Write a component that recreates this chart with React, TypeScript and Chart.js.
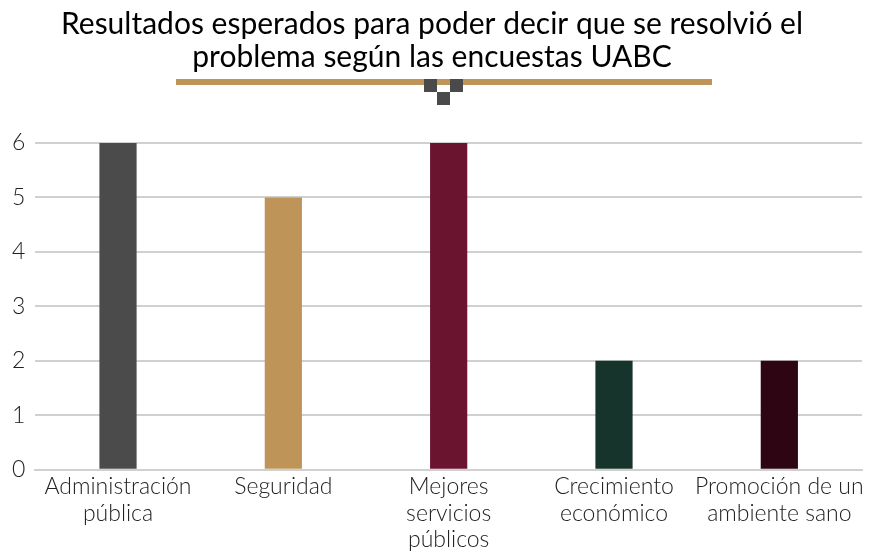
import React, { useEffect, useRef } from "react";
import { Chart, registerables } from "chart.js";

Chart.register(...registerables);

const titleLines = [
  "Resultados esperados para poder decir que se resolvió el",
  "problema según las encuestas UABC",
];
const categories = [
  ["Administración", "pública"],
  ["Seguridad"],
  ["Mejores", "servicios", "públicos"],
  ["Crecimiento", "económico"],
  ["Promoción de un", "ambiente sano"],
];
const values = [6, 5, 6, 2, 2];
const barColors = ["#4b4b4b", "#bf9459", "#6b142f", "#16342b", "#2e0613"];
const yTicks = [0, 1, 2, 3, 4, 5, 6];

const FONT = "Lato, 'Open Sans', sans-serif";

const decoration = {
  id: "decoration",
  afterDraw(chart: any) {
    const ctx = chart.ctx;
    ctx.save();
    ctx.fillStyle = "#bf9459";
    ctx.fillRect(176, 79, 536, 6);
    ctx.fillStyle = "#4a4a4a";
    const s = 13;
    ctx.fillRect(424, 79, s, s);
    ctx.fillRect(450, 79, s, s);
    ctx.fillRect(437, 92, s, s);
    ctx.restore();
  },
};

export default function App() {
  const ref = useRef<HTMLCanvasElement | null>(null);
  useEffect(() => {
    if (!ref.current) return;
    const chart = new Chart(ref.current, {
      type: "bar",
      data: {
        labels: categories,
        datasets: [
          {
            data: values,
            backgroundColor: barColors,
            barPercentage: 0.225,
            categoryPercentage: 1,
          },
        ],
      },
      options: {
        responsive: false,
        animation: false,
        layout: { padding: { left: 2, right: 7, top: 0, bottom: -5 } },
        plugins: {
          legend: { display: false },
          tooltip: { enabled: false },
          title: {
            display: true,
            text: titleLines,
            color: "#000",
            font: { family: FONT, size: 30, weight: "normal", lineHeight: 1.1 },
            padding: { top: 8, bottom: 69 },
          },
        },
        scales: {
          x: {
            grid: { display: false, drawTicks: false },
            border: { display: true, color: "#d0d0d0", width: 2 },
            ticks: {
              color: "#222",
              font: { family: FONT, size: 23, weight: "300", lineHeight: 1.15 },
              padding: 4,
              maxRotation: 0,
              autoSkip: false,
            },
          },
          y: {
            min: 0,
            max: 6,
            afterBuildTicks: (scale: any) => {
              scale.ticks = yTicks.map((v) => ({ value: v }));
            },
            grid: { color: "#d0d0d0", lineWidth: 2, drawTicks: false },
            border: { display: false },
            ticks: {
              color: "#222",
              font: { family: FONT, size: 23, weight: "300" },
              padding: 10,
            },
          },
        },
      },
      plugins: [decoration],
    });
    return () => chart.destroy();
  }, []);
  return (
    <div style={{ position: "fixed", left: 0, top: 0, width: 869, height: 552, background: "#fff" }}>
      <canvas ref={ref} width={869} height={552} />
    </div>
  );
}
